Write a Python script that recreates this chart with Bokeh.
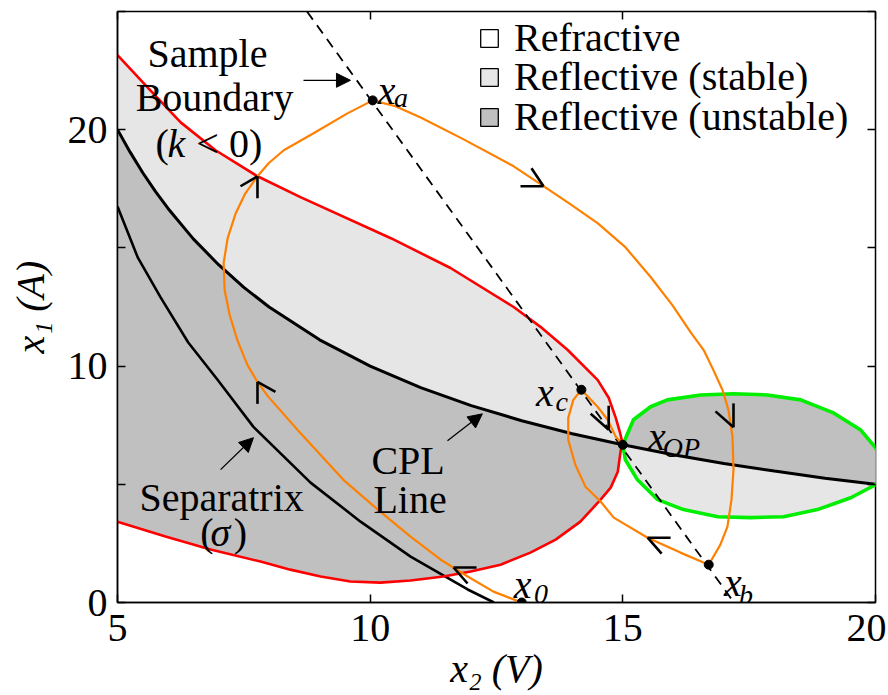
from bokeh.plotting import figure
from bokeh.models import (Range1d, LinearAxis, FixedTicker, Label, Arrow, NormalHead,
                          Legend, LegendItem)
from bokeh.embed import file_html
from bokeh.resources import INLINE

# ---------------- data ----------------
x_ticks = [5, 10, 15, 20]
y_ticks = [0, 10, 20]
y_minor_ticks = [5, 15, 25]
y_all_ticks = [0, 5, 10, 15, 20, 25]
x_title = "x₂ (V)"
y_title = "x₁ (A)"

# constant power load line x1 = P / x2
cpl_x = [5.0, 5.25, 5.5, 5.75, 6.0, 6.5, 7.0, 7.5, 8.0, 9.0, 10.0, 11.0, 12.0, 13.0,
         14.0, 15.0, 16.0, 17.0, 18.0, 19.0, 20.0, 20.3]
cpl_y = [20.0, 19.05, 18.18, 17.39, 16.67, 15.38, 14.29, 13.33, 12.5, 11.11, 10.0, 9.09,
         8.33, 7.69, 7.14, 6.67, 6.25, 5.88, 5.56, 5.26, 5.0, 4.93]

# separatrix
sep_x = [5.0, 5.4, 5.85, 6.4, 6.98, 7.69, 8.82, 9.81, 10.8, 11.93, 12.45]
sep_y = [16.75, 14.6, 12.92, 11.0, 9.42, 7.43, 5.07, 3.42, 1.94, 0.55, 0.0]

# sample boundary (k < 0): upper branch (x2 = 5 -> x_OP), lower branch (x_OP -> x2 = 5)
red_top_x = [5.0, 5.65, 6.25, 6.94, 7.77, 8.62, 10.41, 11.59, 12.84, 13.37, 13.91, 14.5,
             14.72, 14.86, 14.94, 15.0]
red_top_y = [23.15, 21.66, 20.31, 19.13, 18.03, 17.15, 15.41, 14.15, 12.5, 11.66, 10.68, 9.42,
             8.66, 7.81, 7.22, 6.67]
red_bot_x = [15.0, 14.96, 14.9, 14.76, 14.56, 14.16, 13.67, 13.17, 12.58, 11.99, 11.45, 10.8,
             10.2, 9.61, 9.02, 8.42, 7.83, 6.84, 5.95, 5.0]
red_bot_y = [6.67, 6.46, 5.53, 4.86, 4.35, 3.42, 2.66, 2.11, 1.6, 1.31, 1.1, 0.93,
             0.84, 0.89, 1.1, 1.39, 1.73, 2.24, 2.79, 3.42]

# green ellipse around the operating point (clockwise from x_OP)
green_x = [15.0, 15.21, 15.55, 15.88, 16.54, 17.19, 17.86, 18.52, 19.17, 19.7, 20.0, 20.18,
           20.0, 19.51, 18.85, 18.18, 17.53, 16.88, 16.2, 15.69, 15.29, 15.05, 15.0]
green_y = [6.67, 7.73, 8.28, 8.57, 8.78, 8.83, 8.78, 8.57, 8.02, 7.31, 6.55, 5.79,
           4.98, 4.43, 3.93, 3.63, 3.59, 3.63, 3.93, 4.35, 5.19, 6.04, 6.67]
green_upper_count = 12  # points of the upper arc (x_OP ... right tip)

# orange trajectory x0 -> xa -> xb -> xc -> xOP
traj_x = [13.0, 12.44, 11.93, 11.39, 10.8, 10.2, 9.47, 8.56, 7.97, 7.77, 7.57, 7.37, 7.22,
          7.12, 7.1, 7.18, 7.34, 7.53, 7.77, 7.99, 8.29, 8.88, 9.55, 10.05,
          10.5, 11.0, 11.85, 12.84, 13.43, 13.96, 14.5, 15.05, 15.55, 15.98, 16.34, 16.6,
          16.79, 16.97, 17.09, 17.17, 17.19, 17.15, 17.07, 16.93, 16.7,
          16.14, 15.49, 14.82, 14.56, 14.26, 14.06, 13.92, 13.92, 14.02, 14.18,
          14.5, 14.7, 14.86, 15.0]
traj_y = [0.0, 0.46, 1.1, 1.82, 2.79, 3.84, 5.19, 7.31, 8.74, 9.33, 10.05, 11.11, 12.16,
          13.22, 14.36, 15.41, 16.47, 17.31, 18.03, 18.58, 19.13, 19.85, 20.69, 21.24,
          20.99, 20.52, 19.59, 18.45, 17.61, 16.85, 16.05, 15.03, 13.77, 12.58, 11.44, 10.68,
          9.84, 9.0, 8.15, 7.01, 5.62, 4.35, 3.21, 2.45, 1.6,
          2.11, 2.74, 3.59, 4.27, 4.9, 5.83, 6.88, 7.81, 8.57, 9.0,
          8.28, 7.73, 7.01, 6.67]

# dashed line through x_a, x_c, x_b
dash_x = [8.75, 17.2]
dash_y = [25.0, 0.0]

# marked states: x0, xa, xb, xc, xOP
pt_x = [13.0, 10.05, 16.7, 14.18, 15.0]
pt_y = [0.0, 21.24, 1.6, 9.0, 6.67]

# direction arrows on the trajectory (tip position, pointing direction)
arr_x = [11.65, 7.77, 7.77, 13.43, 17.19, 15.49, 14.72]
arr_y = [1.48, 9.33, 18.03, 17.61, 7.41, 2.74, 7.31]
arr_dir = ["left", "up_r", "up_l", "right", "down", "left", "down"]

legend_labels = ["Refractive", "Reflective (stable)", "Reflective (unstable)"]

# ---------------- styles ----------------
LIGHT = "#e6e6e6"
DARK = "#c0c0c0"
legend_colors = ["white", LIGHT, DARK]
legend_rows_y = [541, 502, 462]   # screen offsets of each legend row from the frame bottom
FONT = "Liberation Serif"

W, H = 886, 693
ML, MR, MT, MB = 117, 11, 11, 90
XR = (5, 20)
YR = (0, 25)
PXX = (W - ML - MR) / (XR[1] - XR[0])
PXY = (H - MT - MB) / (YR[1] - YR[0])

# harpoon geometry in screen px (dx, dy downward): shaft, barb
HARPOON = {
    "left": ((23, 0), (14, 16)),
    "right": ((-23, 0), (-12, -18)),
    "up_r": ((0, 22), (18, 10)),
    "up_l": ((0, 22), (-17, 10)),
    "down": ((0, -24), (-18, -16)),
}

p = figure(width=W, height=H, output_backend="svg", toolbar_location=None,
           x_range=Range1d(*XR), y_range=Range1d(*YR),
           min_border_left=ML, min_border_right=MR, min_border_top=MT, min_border_bottom=MB,
           background_fill_color="white", border_fill_color="white")
p.grid.visible = False
p.outline_line_color = "black"
p.outline_line_width = 1.5

for ax in (p.xaxis[0], p.yaxis[0]):
    ax.axis_line_color = "black"
    ax.axis_line_width = 1.5
    ax.major_tick_in = 8
    ax.major_tick_out = 0
    ax.major_tick_line_width = 1.5
    ax.minor_tick_in = 8
    ax.minor_tick_out = 0
    ax.minor_tick_line_width = 1.5
    ax.major_label_text_font = FONT
    ax.major_label_text_font_size = "40px"
    ax.major_label_text_color = "black"
    ax.axis_label_text_font = FONT
    ax.axis_label_text_font_size = "40px"
    ax.axis_label_text_font_style = "italic"
    ax.axis_label_text_color = "black"
p.xaxis[0].ticker = FixedTicker(ticks=x_ticks, minor_ticks=[])
p.yaxis[0].ticker = FixedTicker(ticks=y_ticks, minor_ticks=y_minor_ticks)
p.xaxis[0].major_label_standoff = 12
p.yaxis[0].major_label_standoff = 10
p.xaxis[0].axis_label = x_title
p.yaxis[0].axis_label = y_title
p.xaxis[0].axis_label_standoff = 2
p.yaxis[0].axis_label_standoff = 12

# mirrored tick marks on the top and right frame edges (no labels)
for loc, tk in (("above", x_ticks), ("right", y_all_ticks)):
    ax = LinearAxis(ticker=FixedTicker(ticks=[], minor_ticks=tk), minor_tick_in=8,
                    minor_tick_out=0, minor_tick_line_width=1.5, minor_tick_line_color="black",
                    axis_line_color=None)
    p.add_layout(ax, loc)

# ---------------- regions ----------------
cpl_left = [(x, y) for x, y in zip(cpl_x, cpl_y) if x <= 15.0]
cpl_right = [(x, y) for x, y in zip(cpl_x, cpl_y) if x >= 15.0]

# whole boundary region: light (stable)
p.patch(red_top_x + red_bot_x[1:], red_top_y + red_bot_y[1:], fill_color=LIGHT, line_color=None)
# below the CPL line inside the boundary: dark (unstable)
p.patch([c[0] for c in cpl_left] + red_bot_x[1:], [c[1] for c in cpl_left] + red_bot_y[1:],
        fill_color=DARK, line_color=None)
# green ellipse: light, upper part dark
p.patch(green_x, green_y, fill_color=LIGHT, line_color=None)
up_x = green_x[:green_upper_count] + [c[0] for c in reversed(cpl_right)]
up_y = green_y[:green_upper_count] + [c[1] for c in reversed(cpl_right)]
p.patch(up_x, up_y, fill_color=DARK, line_color=None)

# ---------------- lines ----------------
p.line(cpl_x, cpl_y, line_color="black", line_width=3)
p.line(sep_x, sep_y, line_color="black", line_width=2.6)
p.line(red_top_x + red_bot_x, red_top_y + red_bot_y, line_color="#ff0000", line_width=2.6)
p.line(green_x, green_y, line_color="#00ee00", line_width=3.6)
p.line(dash_x, dash_y, line_color="black", line_width=1.8, line_dash="10 7")
p.line(traj_x, traj_y, line_color="#ff8000", line_width=2.2)

# harpoon arrows
sx0, sy0, sx1, sy1 = [], [], [], []
for x, y, d in zip(arr_x, arr_y, arr_dir):
    for vx, vy in HARPOON[d]:
        sx0.append(x)
        sy0.append(y)
        sx1.append(x + vx / PXX)
        sy1.append(y - vy / PXY)
p.segment(sx0, sy0, sx1, sy1, line_color="black", line_width=2.6)

p.scatter(pt_x, pt_y, size=9, fill_color="black", line_color="black")

# ---------------- legend (one row per Legend so the rows sit as tight as the reference) ----------------
NAN = float("nan")
for lab, col, ry in zip(legend_labels, legend_colors, legend_rows_y):
    r = p.quad(left=[NAN], right=[NAN], top=[NAN], bottom=[NAN], fill_color=col,
               line_color="black", line_width=1.3)
    lg = Legend(items=[LegendItem(label=lab, renderers=[r])],
                location=(361, ry), label_text_font=FONT, label_text_font_size="40px",
                label_text_color="black", glyph_width=22, glyph_height=22, label_standoff=14,
                spacing=0, padding=0, margin=0, border_line_alpha=0, background_fill_alpha=0)
    p.add_layout(lg)

# ---------------- text ----------------
texts = [
    # text, x, y, size, style, align
    ("Sample", 6.78, 23.23, "40px", "normal", "center"),
    ("Boundary", 6.92, 21.37, "40px", "normal", "center"),
    ("(", 5.75, 19.43, "40px", "normal", "left"),
    ("k", 5.99, 19.43, "40px", "italic", "left"),
    ("< 0)", 6.56, 19.43, "40px", "normal", "left"),
    ("Separatrix", 7.06, 4.43, "40px", "normal", "center"),
    ("(", 6.64, 2.96, "40px", "normal", "left"),
    ("σ", 6.84, 2.96, "40px", "italic", "left"),
    (")", 7.3, 2.96, "40px", "normal", "left"),
    ("CPL", 10.75, 6.0, "40px", "normal", "center"),
    ("Line", 10.79, 4.35, "40px", "normal", "center"),
    ("x", 10.15, 21.66, "40px", "italic", "left"),
    ("a", 10.47, 21.37, "28px", "italic", "left"),
    ("x", 13.28, 8.87, "40px", "italic", "left"),
    ("c", 13.67, 8.49, "28px", "italic", "left"),
    ("x", 15.5, 7.01, "40px", "italic", "left"),
    ("OP", 15.79, 6.55, "28px", "italic", "left"),
    ("x", 12.84, 0.76, "40px", "italic", "left"),
    ("0", 13.24, 0.34, "28px", "italic", "left"),
    ("x", 17.0, 0.84, "40px", "italic", "left"),
    ("b", 17.3, 0.34, "28px", "italic", "left"),
]
for t, x, y, s, st, al in texts:
    p.add_layout(Label(x=x, y=y, text=t, text_font=FONT, text_font_size=s, text_font_style=st,
                       text_align=al, text_baseline="alphabetic", text_color="black"))

# pointer arrows for the annotations
for xs, ys, xe, ye in [(8.68, 22.09, 9.61, 22.09), (7.04, 5.62, 7.69, 6.97), (11.53, 6.84, 12.22, 7.98)]:
    p.add_layout(Arrow(end=NormalHead(size=14, fill_color="black", line_color="black", line_width=1),
                       x_start=xs, y_start=ys, x_end=xe, y_end=ye, line_color="black", line_width=1.3))

open("out.html", "w").write(file_html(p, INLINE))
